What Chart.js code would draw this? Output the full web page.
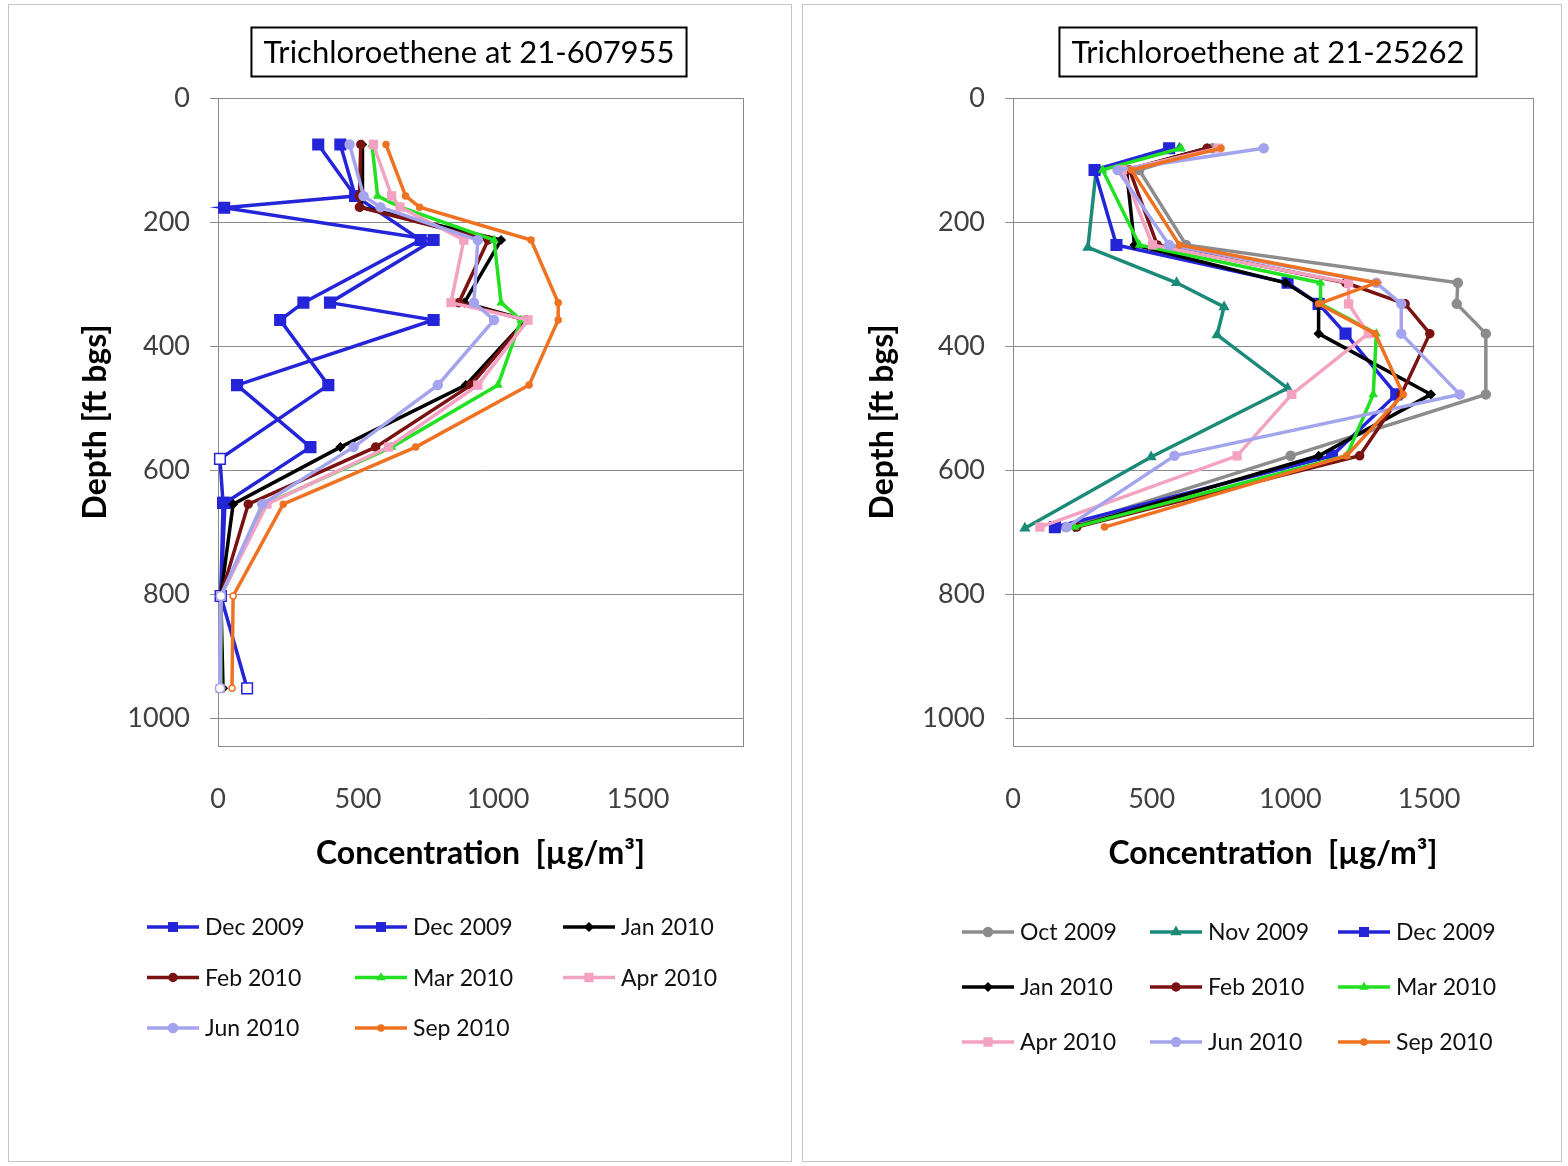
<!DOCTYPE html>
<html><head><meta charset="utf-8">
<script src="https://cdn.jsdelivr.net/npm/chart.js@4.4.1/dist/chart.umd.min.js"></script>
<style>
body{margin:0;background:#fff;width:1568px;height:1166px;overflow:hidden;position:relative;font-family:Lato,sans-serif}
.panel{position:absolute;top:4px;height:1156px;border:1px solid #c4c4c4;background:#fff}
#p1{left:8px;width:782px}
#p2{left:802px;width:758px}
canvas{display:block}
</style></head><body>
<div class="panel" id="p1"><canvas id="c1" width="782" height="1156" style="width:782px;height:1156px"></canvas></div>
<div class="panel" id="p2"><canvas id="c2" width="758" height="1156" style="width:758px;height:1156px"></canvas></div>
<script>
// ---------- DATA ----------
const leftTitle = 'Trichloroethene at 21-607955';
const rightTitle = 'Trichloroethene at 21-25262';
const xTitle = 'Concentration  [µg/m³]';
const yTitle = 'Depth [ft bgs]';
const xTicks = [0, 500, 1000, 1500];
const yTicks = [0, 200, 400, 600, 800, 1000];

// Left chart (21-607955)
const leftSeriesNames = ['Dec 2009','Dec 2009','Jan 2010','Feb 2010','Mar 2010','Apr 2010','Jun 2010','Sep 2010'];
const leftDepthDec09a = [75,158,177,229,330,358,463,563,653,803,952];
const leftConcDec09a  = [358,490,22,770,400,770,68,330,25,10,104];
const leftDepthDec09b = [75,158,229,330,358,463,582,653,803];
const leftConcDec09b  = [437,490,724,305,222,394,7,18,10];
const leftDepths = [75,158,176,229,330,358,463,563,655,803,952];
const leftJan10 = [515,516,510,1011,880,1100,885,437,54,10,18];
const leftFeb10 = [510,505,505,965,860,1100,903,563,108,10,10];
const leftMar10 = [550,570,652,986,1011,1082,1000,620,170,10,10];
const leftApr10 = [555,620,650,878,832,1107,928,609,175,10,7];
const leftJun10 = [470,520,580,928,914,986,785,484,158,10,7];
const leftSep10 = [600,670,720,1118,1215,1215,1111,706,233,54,50];
const leftNonDetectDepths = [582, 803, 952];

// Right chart (21-25262)
const rightSeriesNames = ['Oct 2009','Nov 2009','Dec 2009','Jan 2010','Feb 2010','Mar 2010','Apr 2010','Jun 2010','Sep 2010'];
const rightDepths      = [81,116,237,298,332,380,478,577,692];
const rightDepthsNov09 = [81,116,241,298,337,382,468,579,694];
const rightOct09 = [720,455,624,1604,1600,1705,1705,1001,190];
const rightNov09 = [600,300,270,590,761,736,990,498,43];
const rightDec09 = [563,294,373,990,1102,1199,1382,1150,151];
const rightJan10 = [700,409,438,983,1102,1102,1507,1102,222];
const rightFeb10 = [700,420,520,1200,1414,1503,1400,1250,230];
const rightMar10 = [606,323,456,1109,1109,1310,1299,1203,222];
const rightApr10 = [740,395,503,1210,1210,1281,1005,808,97];
const rightJun10 = [904,377,563,1310,1400,1400,1611,582,194];
const rightSep10 = [750,427,600,1310,1102,1306,1407,1203,330];
const rightNonDetectDepths = [];

// ---------- STYLES ----------
const styles = {
  'Oct 2009': {color:'#8c8c8c', ps:'circle',   r:4.5},
  'Nov 2009': {color:'#1b8a78', ps:'triangle', r:5},
  'Dec 2009': {color:'#2424d8', ps:'rect',     r:7.5},
  'Jan 2010': {color:'#000000', ps:'rectRot',  r:4},
  'Feb 2010': {color:'#7b1212', ps:'circle',   r:4},
  'Mar 2010': {color:'#22e022', ps:'triangle', r:4},
  'Apr 2010': {color:'#f4a2c2', ps:'rect',     r:5.5},
  'Jun 2010': {color:'#a4a4ee', ps:'circle',   r:4.5},
  'Sep 2010': {color:'#ee7222', ps:'circle',   r:3}
};
const FONT = 'Lato, "Open Sans", sans-serif';

function pts(xs, ys){ return xs.map((v,i)=>({x:v, y:ys[i]})); }

function makeDataset(name, data, idx, total, nd){
  const s = styles[name];
  return {
    label: name, data,
    showLine: true, borderColor: s.color, backgroundColor: s.color,
    borderWidth: 3.5, tension: 0,
    pointStyle: s.ps, pointRadius: s.r, pointHoverRadius: s.r,
    pointBorderColor: s.color, pointBorderWidth: 1.5,
    pointBackgroundColor: c => (c.raw && nd.includes(c.raw.y)) ? '#ffffff' : s.color,
    order: total - idx, clip: false
  };
}

// ---------- PLUGINS ----------
const frame = {
  id:'frame',
  beforeDatasetsDraw(chart){
    const {ctx, chartArea:a} = chart;
    ctx.save(); ctx.strokeStyle='#8a8a8a'; ctx.lineWidth=1;
    ctx.strokeRect(Math.round(a.left)+0.5, Math.round(a.top)+0.5, Math.round(a.right-a.left), Math.round(a.bottom-a.top));
    ctx.restore();
  }
};
const boxTitle = {
  id:'boxTitle',
  afterDraw(chart, args, o){
    const ctx = chart.ctx;
    ctx.save();
    ctx.font = o.font;
    const w = ctx.measureText(o.text).width;
    const bw = w + 2*o.padX, bh = o.h;
    ctx.fillStyle='#fff';
    ctx.fillRect(o.cx - bw/2, o.cy - bh/2, bw, bh);
    ctx.strokeStyle='#000'; ctx.lineWidth=2;
    ctx.strokeRect(o.cx - bw/2, o.cy - bh/2, bw, bh);
    ctx.fillStyle='#000'; ctx.textAlign='center'; ctx.textBaseline='middle';
    ctx.fillText(o.text, o.cx, o.cy+1);
    ctx.restore();
  }
};
const gridLegend = {
  id:'gridLegend',
  afterDraw(chart, args, o){
    const ctx = chart.ctx;
    ctx.save();
    chart.data.datasets.forEach((d,i)=>{
      const col = i % o.cols, row = Math.floor(i/o.cols);
      const x = o.x + col*o.dx, y = o.y + row*o.dy;
      const s = styles[d.label];
      ctx.strokeStyle = s.color; ctx.lineWidth = 3.5;
      ctx.beginPath(); ctx.moveTo(x, y); ctx.lineTo(x+o.len, y); ctx.stroke();
      ctx.fillStyle = s.color; ctx.lineWidth = 1.5;
      if (Chart.helpers && Chart.helpers.drawPoint) {
        Chart.helpers.drawPoint(ctx, {pointStyle:s.ps, radius:Math.min(s.r,6), rotation:0, borderWidth:1.5}, x+o.len/2, y);
      }
      ctx.fillStyle = '#111'; ctx.font = o.font; ctx.textAlign='left'; ctx.textBaseline='middle';
      ctx.fillText(d.label, x+o.len+6, y+1);
    });
    ctx.restore();
  }
};

function makeChart(id, datasets, cfg){
  return new Chart(document.getElementById(id), {
    type:'scatter',
    data:{datasets},
    plugins:[frame, boxTitle, gridLegend],
    options:{
      responsive:false, animation:false,
      layout:{padding:{top:cfg.top, right:cfg.right, bottom:cfg.bottom, left:0}},
      plugins:{
        legend:{display:false}, tooltip:{enabled:false}, title:{display:false},
        boxTitle:{text:cfg.title, font:'31px '+FONT, cx:cfg.titleCx, cy:47, padX:12, h:49},
        gridLegend:cfg.legend
      },
      scales:{
        x:{
          type:'linear', min:0, max:1875,
          afterBuildTicks: s => { s.ticks = xTicks.map(v=>({value:v})); },
          afterFit: s => { s.height = 140; },
          grid:{display:false}, border:{display:false},
          ticks:{font:{family:FONT, size:27}, color:'#404040', padding:29, maxRotation:0, callback: v => String(v)},
          title:{display:true, text:xTitle, color:'#000', font:{family:FONT, size:32, weight:'bold'}, padding:{top:0, bottom:13}}
        },
        y:{
          type:'linear', reverse:true, min:0, max:1045,
          afterBuildTicks: s => { s.ticks = yTicks.map(v=>({value:v})); },
          afterFit: s => { s.width = cfg.yWidth; },
          grid:{color:'#8a8a8a', lineWidth:1, tickLength:8, drawTicks:true}, border:{display:false},
          ticks:{font:{family:FONT, size:27}, color:'#404040', padding:20, callback: v => String(v)},
          title:{display:true, text:yTitle, color:'#000', font:{family:FONT, size:32, weight:'bold'}, padding:{top:cfg.yTitlePad, bottom:0}}
        }
      }
    }
  });
}

// Left datasets
const leftSeriesData = [
  pts(leftConcDec09a, leftDepthDec09a),
  pts(leftConcDec09b, leftDepthDec09b),
  pts(leftJan10, leftDepths),
  pts(leftFeb10, leftDepths),
  pts(leftMar10, leftDepths),
  pts(leftApr10, leftDepths),
  pts(leftJun10, leftDepths),
  pts(leftSep10, leftDepths)
];
const leftDs = leftSeriesNames.map((n,i)=>makeDataset(n, leftSeriesData[i], i, leftSeriesNames.length, leftNonDetectDepths));

const rightSeriesData = [
  pts(rightOct09, rightDepths),
  pts(rightNov09, rightDepthsNov09),
  pts(rightDec09, rightDepths),
  pts(rightJan10, rightDepths),
  pts(rightFeb10, rightDepths),
  pts(rightMar10, rightDepths),
  pts(rightApr10, rightDepths),
  pts(rightJun10, rightDepths),
  pts(rightSep10, rightDepths)
];
const rightDs = rightSeriesNames.map((n,i)=>makeDataset(n, rightSeriesData[i], i, rightSeriesNames.length, rightNonDetectDepths));

makeChart('c1', leftDs, {
  top:93, right:48, bottom:275, yWidth:209, yTitlePad:67, title:leftTitle, titleCx:460,
  legend:{x:138, y:922, cols:3, dx:208, dy:50.5, len:52, font:'23px '+FONT}
});
makeChart('c2', rightDs, {
  top:93, right:28, bottom:275, yWidth:210, yTitlePad:60, title:rightTitle, titleCx:465,
  legend:{x:159, y:927, cols:3, dx:188, dy:55, len:52, font:'23px '+FONT}
});
</script>
</body></html>
